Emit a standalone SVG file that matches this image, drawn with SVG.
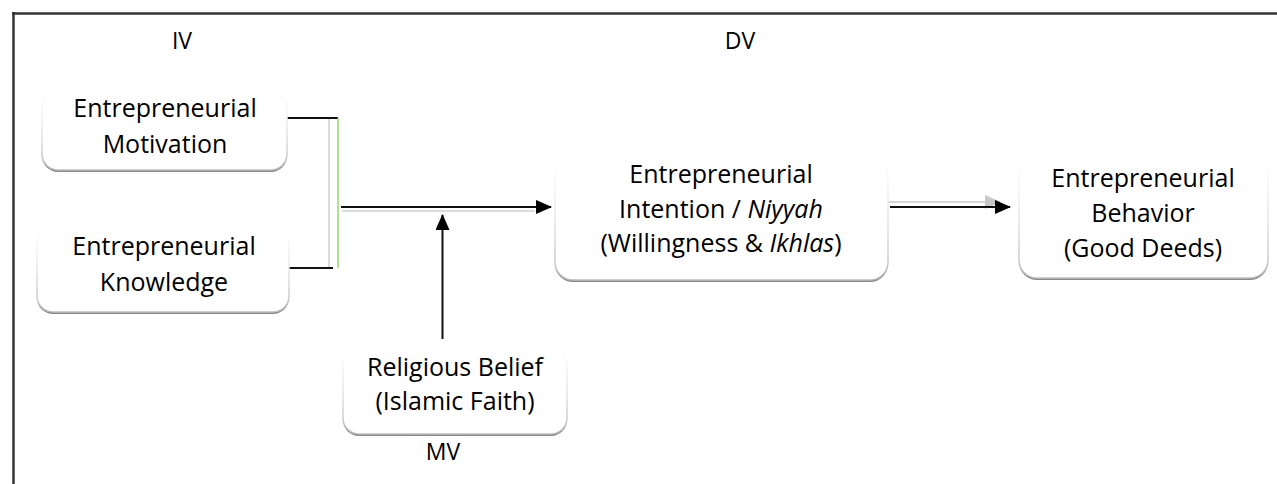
<svg xmlns="http://www.w3.org/2000/svg" width="1277" height="484" viewBox="0 0 1277 484">
<defs>
<style>
text{font-family:"Open Sans","Liberation Sans",sans-serif;font-size:25px;fill:#000;text-anchor:middle}
.lbl{font-size:23px}
.shadow{fill:#888}
.box{fill:#fff;stroke:url(#edge);stroke-width:1.5}
.ln{stroke:#111;stroke-width:2;fill:none}
.faint{stroke:#dcdcdc;stroke-width:2;fill:none}
</style>
<linearGradient id="edge" x1="0" y1="0" x2="0" y2="1">
<stop offset="0" stop-color="#ffffff"/>
<stop offset="0.5" stop-color="#e6e6e6"/>
<stop offset="1" stop-color="#bdbdbd"/>
</linearGradient>
<marker id="ah" markerWidth="16" markerHeight="14" refX="15" refY="7" orient="auto" markerUnits="userSpaceOnUse">
<path d="M0,0 L16,7 L0,14 Z" fill="#000"/>
</marker>
<marker id="ahg" markerWidth="16" markerHeight="14" refX="15" refY="7" orient="auto" markerUnits="userSpaceOnUse">
<path d="M0,0 L16,7 L0,14 Z" fill="#c8c8c8"/>
</marker>
</defs>
<rect width="1277" height="484" fill="#fff"/>
<g id="frame">
<line x1="12" y1="13.5" x2="1277" y2="13.5" stroke="#333" stroke-width="2.5"/>
<line x1="13.5" y1="12" x2="13.5" y2="484" stroke="#333" stroke-width="2.5"/>
</g>
<g id="labels">
<text x="182" y="49" class="lbl">IV</text>
<text x="740" y="49" class="lbl">DV</text>
<text x="443" y="460" class="lbl">MV</text>
</g>
<g id="connectors">
<line class="faint" x1="329" y1="119" x2="329" y2="268"/>
<polyline class="ln" points="273,118 338,118"/>
<line x1="338" y1="118" x2="338" y2="268" stroke="#9ad46e" stroke-width="1.5"/>
<polyline class="ln" points="272,268 333,268"/>
<line class="faint" x1="342" y1="211" x2="535" y2="211"/>
<line class="ln" x1="341" y1="207" x2="551" y2="207" marker-end="url(#ah)"/>
<line class="ln" x1="442.5" y1="339" x2="442.5" y2="215" marker-end="url(#ah)"/>
<line x1="886" y1="202" x2="1000" y2="202" stroke="#d8d8d8" stroke-width="2" marker-end="url(#ahg)"/>
<line class="ln" x1="890" y1="207" x2="1010" y2="207" marker-end="url(#ah)"/>
</g>
<g id="motivation">
<rect class="shadow" x="42" y="95" width="245" height="77" rx="16"/>
<rect class="box" x="42" y="93" width="245" height="77" rx="16"/>
<text x="165" y="117">Entrepreneurial</text>
<text x="165" y="153">Motivation</text>
</g>
<g id="knowledge">
<rect class="shadow" x="37" y="232" width="252" height="82" rx="16"/>
<rect class="box" x="37" y="230" width="252" height="82" rx="16"/>
<text x="164" y="255">Entrepreneurial</text>
<text x="164" y="291">Knowledge</text>
</g>
<g id="intention">
<rect class="shadow" x="555" y="162" width="333" height="120" rx="18"/>
<rect class="box" x="555" y="160" width="333" height="120" rx="18"/>
<text x="721" y="183">Entrepreneurial</text>
<text x="721" y="218">Intention / <tspan font-style="italic">Niyyah</tspan></text>
<text x="721" y="252">(Willingness &amp; <tspan font-style="italic">Ikhlas</tspan>)</text>
</g>
<g id="behavior">
<rect class="shadow" x="1019" y="161" width="249" height="119" rx="18"/>
<rect class="box" x="1019" y="159" width="249" height="119" rx="18"/>
<text x="1143" y="187">Entrepreneurial</text>
<text x="1143" y="222">Behavior</text>
<text x="1143" y="257">(Good Deeds)</text>
</g>
<g id="religious">
<rect class="shadow" x="343" y="352" width="224" height="84" rx="16"/>
<rect class="box" x="343" y="350" width="224" height="84" rx="16"/>
<text x="455" y="376">Religious Belief</text>
<text x="455" y="410">(Islamic Faith)</text>
</g>
</svg>
